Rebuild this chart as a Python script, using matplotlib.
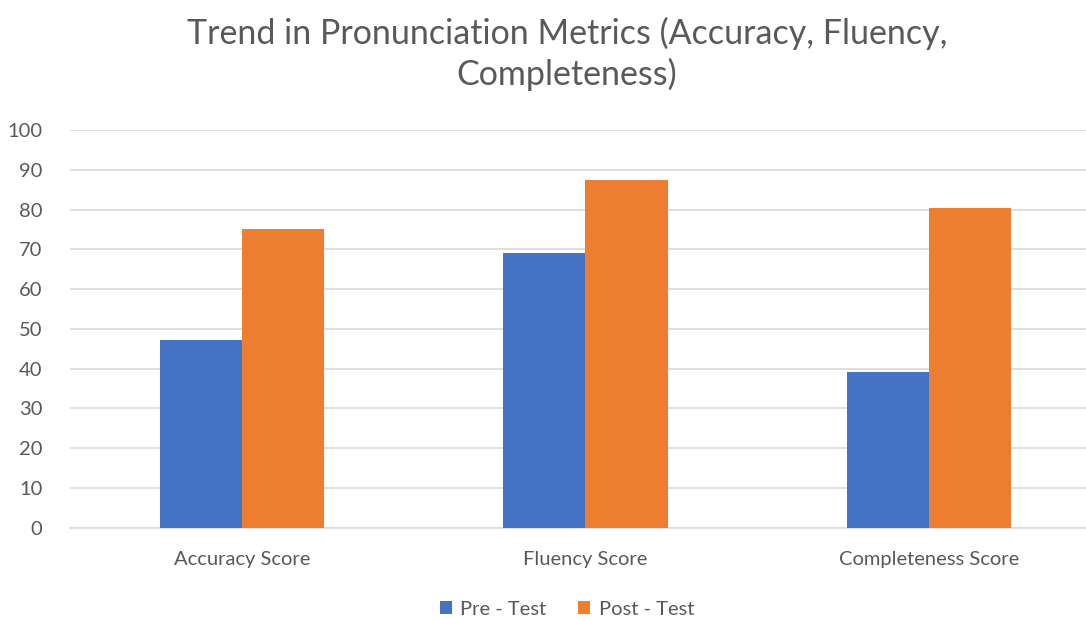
import matplotlib.pyplot as plt
import numpy as np

plt.rcParams['font.family'] = ['Lato', 'DejaVu Sans']

categories = ["Accuracy Score", "Fluency Score", "Completeness Score"]
pre_test = [47.3, 69.0, 39.2]
post_test = [75.2, 87.5, 80.3]
series_names = ["Pre - Test", "Post - Test"]
yticks = list(range(0, 101, 10))

blue = '#4472C4'
orange = '#ED7D31'
grey = '#595959'

fig = plt.figure(figsize=(10.86, 6.19), dpi=100)
ax = fig.add_axes([0.0645, 0.1475, 0.9355, 0.6425])

x = np.arange(len(categories))
w = 0.239
ax.bar(x - w/2, pre_test, w, color=blue, label=series_names[0], zorder=3)
ax.bar(x + w/2, post_test, w, color=orange, label=series_names[1], zorder=3)

ax.set_xlim(-0.5, 2.457)
ax.set_ylim(0, 100)
ax.set_yticks(yticks)
ax.set_xticks(x)
ax.set_xticklabels(categories)
ax.yaxis.grid(True, color='#D9D9D9', linewidth=1.2, zorder=0)
ax.tick_params(axis='y', length=0, pad=20, labelsize=14.5, labelcolor=grey)
ax.tick_params(axis='x', length=0, pad=17, labelsize=14.5, labelcolor=grey)
for s in ['top', 'right', 'left']:
    ax.spines[s].set_visible(False)
ax.spines['bottom'].set_color('#D9D9D9')
ax.spines['bottom'].set_linewidth(1.2)

fig.text(0.522, 0.913, "Trend in Pronunciation Metrics (Accuracy, Fluency,\nCompleteness)",
         ha='center', va='center', fontsize=24.5, color=grey, linespacing=1.3)

fig.legend(loc='center', bbox_to_anchor=(0.522, 0.016), ncol=2, frameon=False,
           fontsize=14.5, labelcolor=grey, handlelength=0.6, handleheight=0.6,
           handletextpad=0.4, columnspacing=1.6)

fig.savefig('out.png', dpi=100)
